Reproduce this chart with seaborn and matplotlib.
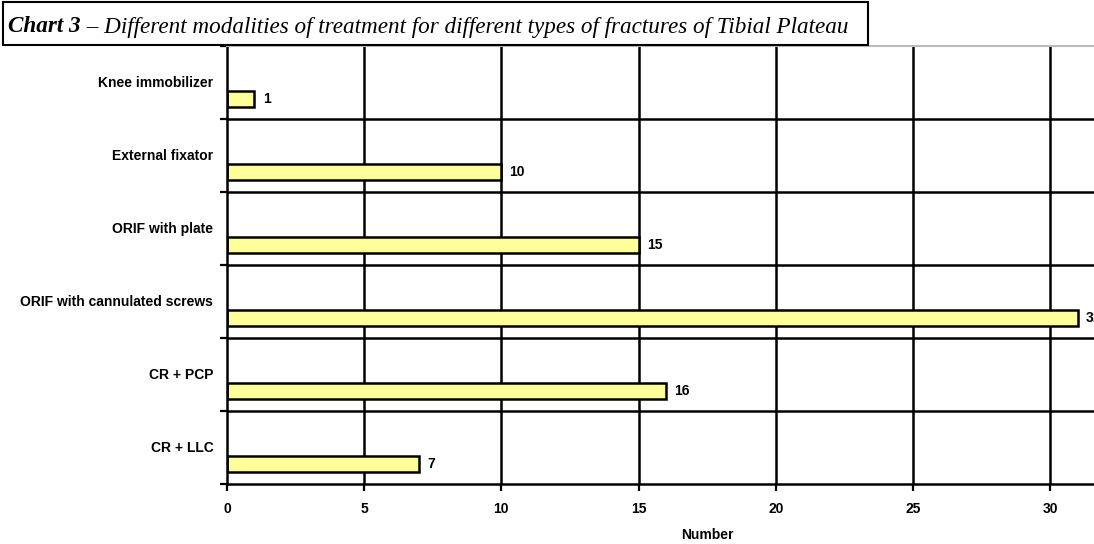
import matplotlib
matplotlib.use("Agg")
import matplotlib.pyplot as plt
import seaborn as sns
import pandas as pd
from matplotlib.patches import Rectangle

# data
treatments = ['Knee immobilizer', 'External fixator', 'ORIF with plate',
              'ORIF with cannulated screws', 'CR + PCP', 'CR + LLC']
counts = [1, 10, 15, 31, 16, 7]
x_ticks = [0, 5, 10, 15, 20, 25, 30]

df = pd.DataFrame({'Treatment': treatments, 'Number': counts})

sns.set_style('white')
plt.rcParams['font.family'] = ['Liberation Sans', 'DejaVu Sans']
plt.rcParams['text.color'] = 'black'
plt.rcParams['xtick.color'] = 'black'
plt.rcParams['ytick.color'] = 'black'

fig = plt.figure(figsize=(10.94, 5.44), dpi=100)
ax = fig.add_axes([227 / 1094, 1 - 484 / 544, 1 - 227 / 1094, (484 - 46) / 544])

sns.barplot(data=df, x='Number', y='Treatment', orient='h', ax=ax,
            color='#FFFF99', saturation=1, edgecolor='black', linewidth=1.8,
            width=0.22)

# bars sit in the lower part of each band
off = 0.274
bounds = [i + off for i in range(-1, len(treatments))]
ax.set_ylim(len(treatments) - 1 + off, -1 + off)
ax.set_xlim(0, 31.6)

for b in bounds[1:-1]:
    ax.axhline(b, color='black', lw=1.8, zorder=0)
for t in x_ticks[1:]:
    ax.axvline(t, color='black', lw=1.8, zorder=0)

fs = 10
ax.set_yticks(bounds)
ax.set_yticklabels([])
ax.set_xticks(x_ticks)
ax.set_xticklabels([str(t) for t in x_ticks], fontsize=fs, fontweight='bold')
ax.tick_params(axis='both', direction='out', length=5, width=1.6, color='black',
               left=True, bottom=True)
ax.tick_params(axis='x', pad=8)

for i, name in enumerate(treatments):
    ax.text(-0.5, i - 0.22, name, ha='right', va='center', fontsize=fs,
            fontweight='bold')
for i, v in enumerate(counts):
    ax.text(v + 0.3, i, str(v), ha='left', va='center', fontsize=fs,
            fontweight='bold', clip_on=False)

ax.set_ylabel('')
ax.set_xlabel('')
fig.text(707 / 1094, 1 - 535 / 544, 'Number', ha='center', va='center',
         fontsize=fs, fontweight='bold')

for s in ['left', 'bottom']:
    ax.spines[s].set_color('black')
    ax.spines[s].set_linewidth(1.8)
ax.spines['right'].set_visible(False)
ax.spines['top'].set_color('#BBBBBB')
ax.spines['top'].set_linewidth(1.5)

# title box
fig.add_artist(Rectangle((3 / 1094, 1 - 45 / 544), 865 / 1094, 43 / 544,
                         transform=fig.transFigure, facecolor='white',
                         edgecolor='black', lw=1.5, zorder=5))
t1 = fig.text(8 / 1094, 1 - 27 / 544, 'Chart 3', ha='left', va='center',
              fontsize=16.7, fontstyle='italic', fontweight='bold',
              family='Liberation Serif', zorder=6)
fig.canvas.draw()
bb = t1.get_window_extent()
fig.text(bb.x1 / 1094, 1 - 27 / 544, ' \u2013 Different modalities of treatment for different types of fractures of Tibial Plateau',
         ha='left', va='center', fontsize=16.7, fontstyle='italic',
         family='Liberation Serif', zorder=6)

fig.savefig('out.png', dpi=100)
